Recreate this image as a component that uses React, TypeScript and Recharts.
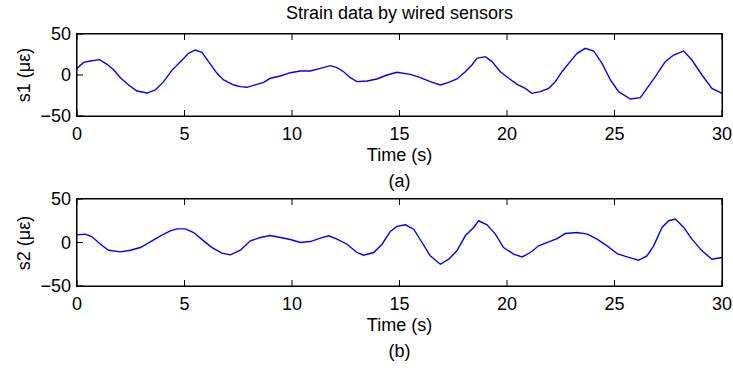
import React from 'react';
import { LineChart, Line, XAxis, YAxis } from 'recharts';

// ---- data ----
const timeTicks = [0, 5, 10, 15, 20, 25, 30];
const strainTicks = [-50, 0, 50];

const s1Time = [
  0, 0.31, 0.62, 1.05, 1.4, 1.71, 2.02, 2.4, 2.79, 3.26, 3.64, 4.03, 4.42, 4.81, 5.19, 5.5, 5.81, 6.12, 6.51, 6.82,
  7.29, 7.6, 7.91, 8.37, 8.68, 8.99, 9.46, 9.92, 10.39, 10.85, 11.32, 11.78, 12.09, 12.4, 12.71, 13.02, 13.49, 13.95,
  14.42, 14.88, 15.5, 15.97, 16.43, 16.9, 17.29, 17.67, 18.06, 18.37, 18.6, 18.99, 19.3, 19.69, 20.08, 20.47, 20.85,
  21.16, 21.55, 21.94, 22.25, 22.56, 22.87, 23.26, 23.64, 24.03, 24.42, 24.81, 25.19, 25.74, 26.2, 26.51, 26.9,
  27.36, 27.75, 28.22, 28.6, 29.07, 29.53, 30,
];
const s1Strain = [
  8.1, 15.4, 17, 18.7, 13, 6, -3.3, -12.2, -19.5, -22, -18.3, -8.1, 6, 16.3, 26.4, 30.5, 27.6, 16.3, 2, -6.1,
  -12.2, -14.2, -15, -11.4, -8.9, -4, -1.2, 2.8, 4.9, 4.9, 8.1, 11.4, 8.9, 4, -3.3, -8.1, -7.3, -4.9,
  0, 3.3, 0.8, -3.3, -8.1, -12.2, -8.9, -4.9, 4, 12.2, 20.3, 22.4, 16.3, 4, -4, -11.4, -16.3,
  -22.4, -20.3, -16.3, -8.1, 4, 14.2, 26.4, 32.5, 29.3, 14.2, -6.1, -20.3, -29.3, -27.6, -16.3, -2,
  16.3, 24.4, 29.3, 18.3, 0, -16.3, -22.4,
];

const s2Time = [
  0, 0.39, 0.7, 1.09, 1.47, 2.02, 2.48, 2.95, 3.41, 3.88, 4.34, 4.65, 5.04, 5.43, 5.89, 6.28, 6.74, 7.13, 7.6,
  8.06, 8.53, 8.99, 9.46, 9.92, 10.39, 10.85, 11.32, 11.71, 12.09, 12.56, 13.02, 13.33, 13.8, 14.19, 14.57, 14.88,
  15.27, 15.66, 16.05, 16.43, 16.9, 17.29, 17.67, 18.06, 18.45, 18.68, 19.07, 19.46, 19.84, 20.31, 20.7, 21.09,
  21.47, 21.94, 22.33, 22.71, 23.26, 23.74, 24.19, 24.65, 25.12, 25.58, 26.12, 26.51, 26.82, 27.21, 27.52, 27.83,
  28.22, 28.6, 29.07, 29.53, 30,
];
const s2Strain = [
  8.8, 9.6, 6.5, -2, -8.9, -10.8, -8.9, -5.8, 0.7, 7.7, 13.4, 15.7, 15.7, 11.5, 1.9, -5.8, -12.3, -14.2, -8.9,
  1.9, 5.7, 8, 5.7, 3.4, 0, 1.1, 5, 7.7, 3.8, -2, -11.5, -14.6, -11.5, -2, 12.7, 18.5,
  20.3, 15.3, 0, -15.4, -25, -19.2, -9.6, 7.7, 17.3, 25, 20.3, 9.6, -5.8, -13.4, -16.6, -11.5,
  -3.8, 0.7, 4.5, 10.3, 11.5, 9.6, 3.8, -3.8, -12.7, -16.6, -20.4, -15.4, -3.8, 17.3, 25, 26.9,
  17.3, 3.8, -9.6, -19.2, -17.3,
];

const s1Data = s1Time.map((t, i) => ({ t, v: s1Strain[i] }));
const s2Data = s2Time.map((t, i) => ({ t, v: s2Strain[i] }));

const W = 733;
const PLOT_LEFT = 77;
const PLOT_RIGHT = 722;
const FONT = 'Liberation Sans, Arial, Helvetica, sans-serif';
const AX = '#000';

const fmt = (v: number) => (v < 0 ? '\u2212' + Math.abs(v) : String(v));
const blank = () => '';

const P1 = { top: 0, height: 190, plotTop: 34, plotBottom: 116 };
const P2 = { top: 185, height: 183, plotTop: 14, plotBottom: 101 };

function Panel({ data, top, height, plotTop, plotBottom }: any) {
  const margin = {
    top: plotTop - 1,
    left: PLOT_LEFT - 60,
    right: W - PLOT_RIGHT - 1,
    bottom: height - plotBottom - 30,
  };
  const tickStyle = { fontSize: 18, fill: '#000', fontFamily: FONT };
  return (
    <div style={{ position: 'absolute', left: 0, top }}>
      <LineChart width={W} height={height} data={data} margin={margin}>
        <XAxis
          dataKey="t"
          type="number"
          domain={[0, 30]}
          ticks={timeTicks}
          stroke={AX}
          tickSize={-6}
          tickMargin={17}
          tick={tickStyle}
        />
        <XAxis
          xAxisId="t"
          dataKey="t"
          type="number"
          domain={[0, 30]}
          ticks={timeTicks}
          orientation="top"
          height={1}
          stroke={AX}
          tickSize={-6}
          tickFormatter={blank}
        />
        <YAxis
          type="number"
          domain={[-50, 50]}
          ticks={strainTicks}
          stroke={AX}
          tickSize={-6}
          tickMargin={12}
          tick={tickStyle}
          tickFormatter={fmt}
        />
        <YAxis
          yAxisId="r"
          orientation="right"
          type="number"
          domain={[-50, 50]}
          ticks={strainTicks}
          width={1}
          stroke={AX}
          tickSize={-6}
          tickFormatter={blank}
        />
        <Line dataKey="v" stroke="#0000ff" strokeWidth={1.4} dot={false} isAnimationActive={false} />
      </LineChart>
    </div>
  );
}

function BoxFrame({ top, bottom }: { top: number; bottom: number }) {
  return (
    <div
      style={{
        position: 'absolute',
        left: PLOT_LEFT - 0.75,
        top: top - 0.75,
        width: PLOT_RIGHT - PLOT_LEFT + 1.5,
        height: bottom - top + 1.5,
        border: '1.5px solid #000',
        boxSizing: 'border-box',
        pointerEvents: 'none',
      }}
    />
  );
}

function Caption({ text, cy, cx }: { text: string; cy: number; cx: number }) {
  return (
    <div
      style={{
        position: 'absolute',
        left: cx - 200,
        top: cy - 9,
        width: 400,
        height: 18,
        lineHeight: '18px',
        fontSize: 18,
        fontFamily: FONT,
        color: '#000',
        textAlign: 'center',
        whiteSpace: 'nowrap',
      }}
    >
      {text}
    </div>
  );
}

function YTitle({ text, cy }: { text: string; cy: number }) {
  return (
    <div
      style={{
        position: 'absolute',
        left: 24 - 50,
        top: cy - 9,
        width: 100,
        height: 18,
        lineHeight: '18px',
        fontSize: 18,
        fontFamily: FONT,
        color: '#000',
        textAlign: 'center',
        whiteSpace: 'nowrap',
        transform: 'rotate(-90deg)',
      }}
    >
      {text}
    </div>
  );
}

export default function App() {
  const cx = (PLOT_LEFT + PLOT_RIGHT) / 2;
  return (
    <div style={{ position: 'absolute', left: 0, top: 0, width: W, height: 368, background: '#fff' }}>
      <Panel data={s1Data} {...P1} />
      <Panel data={s2Data} {...P2} />
      <BoxFrame top={P1.top + P1.plotTop} bottom={P1.top + P1.plotBottom} />
      <BoxFrame top={P2.top + P2.plotTop} bottom={P2.top + P2.plotBottom} />
      <Caption text="Strain data by wired sensors" cx={cx} cy={12.5} />
      <Caption text="Time (s)" cx={cx} cy={154.5} />
      <Caption text="(a)" cx={cx} cy={180.5} />
      <Caption text="Time (s)" cx={cx} cy={324.5} />
      <Caption text="(b)" cx={cx} cy={351} />
      <YTitle text="s1 (με)" cy={75} />
      <YTitle text="s2 (με)" cy={242.5} />
    </div>
  );
}
